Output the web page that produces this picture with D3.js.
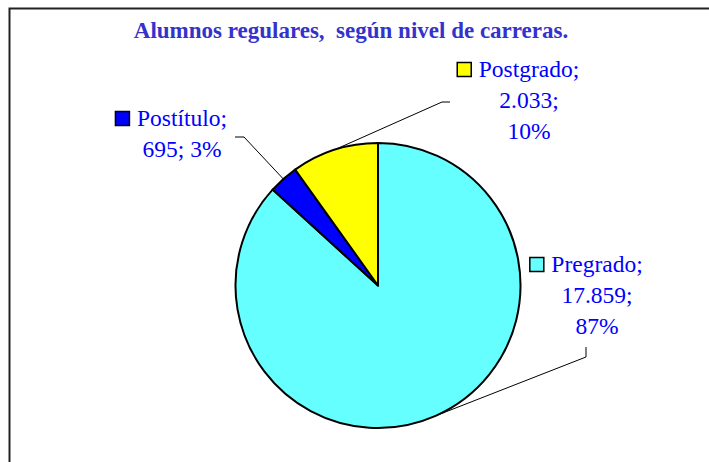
<!DOCTYPE html>
<html>
<head>
<meta charset="utf-8">
<style>
  body { margin: 0; background: #fff; }
  text { font-family: "Liberation Serif", "Times New Roman", serif; }
</style>
</head>
<body>
<svg width="709" height="462"></svg>
<script src="https://cdn.jsdelivr.net/npm/d3@7"></script>
<script>
    // data
    const categories = ['Pregrado', 'Postítulo', 'Postgrado'];
    const values = [17859, 695, 2033];
    const colors = ['#66FFFF', '#0000FF', '#FFFF00'];
    const title = 'Alumnos regulares,  según nivel de carreras.';

    // label placement (text center x, first baseline y, leader start points)
    const labelPos = [
        { cx: 597, y: 272, lines: 3, leader: [[586, 347], [586, 357]] },
        { cx: 182, y: 126, lines: 2, leader: [[235, 137], [244, 137]] },
        { cx: 529, y: 77, lines: 3, leader: [[450, 102], [442, 102]] }
    ];

    const svg = d3.select('svg');
    const cx = 378, cy = 285.5, radius = 142.5;

    // chart border (runs off the right and bottom)
    svg.append('rect')
        .attr('x', 9.5).attr('y', 8.5)
        .attr('width', 800).attr('height', 600)
        .attr('fill', 'none')
        .attr('stroke', '#222')
        .attr('stroke-width', 2);

    svg.append('text')
        .attr('x', 351).attr('y', 38)
        .attr('text-anchor', 'middle')
        .style('white-space', 'pre')
        .attr('font-size', 23)
        .attr('font-weight', 'bold')
        .attr('fill', '#3333CC')
        .text(title);

    const total = d3.sum(values);
    const fmtNum = d3.formatLocale({ decimal: ',', thousands: '.', grouping: [3], currency: ['$', ''] }).format(',d');

    const pie = d3.pie().sort(null).value(d => d)(values);
    const arc = d3.arc().innerRadius(0).outerRadius(radius);
    const edge = d3.arc().innerRadius(radius).outerRadius(radius);

    const g = svg.append('g').attr('transform', `translate(${cx},${cy})`);

    g.selectAll('path')
        .data(pie)
        .join('path')
        .attr('d', arc)
        .attr('fill', (d, i) => colors[i])
        .attr('stroke', '#000')
        .attr('stroke-width', 2)
        .attr('stroke-linejoin', 'round');

    // leader lines
    pie.forEach(function(d, i) {
        const p = edge.centroid(d);
        const L = labelPos[i].leader;
        svg.append('polyline')
            .attr('points', [L[0], L[1], [cx + p[0], cy + p[1]]].map(q => q.join(',')).join(' '))
            .attr('fill', 'none')
            .attr('stroke', '#000')
            .attr('stroke-width', 1);
    });

    // labels
    pie.forEach(function(d, i) {
        const pos = labelPos[i];
        const pct = Math.round(d.value / total * 100) + '%';
        let lines;
        if (pos.lines === 3) lines = [categories[i] + ';', fmtNum(d.value) + ';', pct];
        else lines = [categories[i] + ';', fmtNum(d.value) + '; ' + pct];

        let first;
        lines.forEach(function(t, k) {
            const el = svg.append('text')
                .attr('x', pos.cx)
                .attr('y', pos.y + k * 31)
                .attr('text-anchor', 'middle')
                .attr('font-size', 23.5)
                .attr('fill', '#0000FF')
                .text(t);
            if (k === 0) first = el;
        });
        const w = first.node().getComputedTextLength();
        svg.append('rect')
            .attr('x', pos.cx - w / 2 - 21.5)
            .attr('y', pos.y - 14.5)
            .attr('width', 14)
            .attr('height', 14)
            .attr('fill', colors[i])
            .attr('stroke', '#000')
            .attr('stroke-width', 1.5);
    });
</script>
</body>
</html>
